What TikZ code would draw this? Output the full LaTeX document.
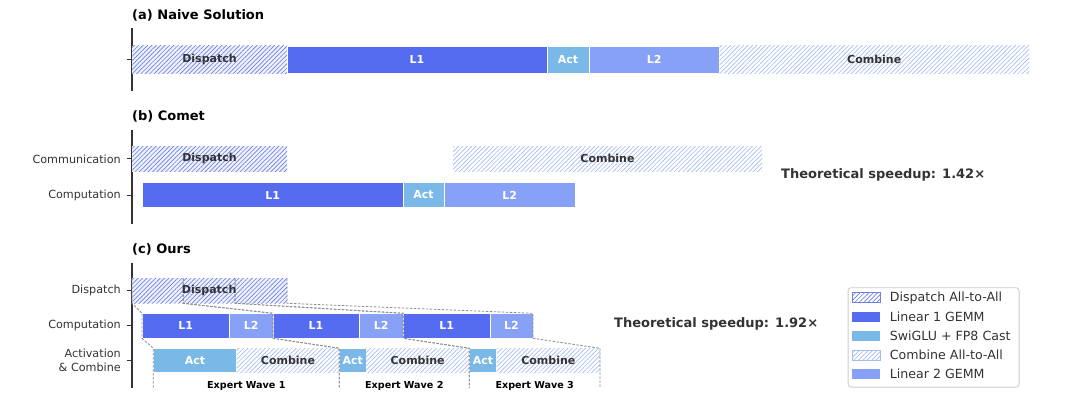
\documentclass[tikz,border=0pt]{standalone}
\usepackage{fontspec}
\setmainfont{DejaVu Sans}
\usetikzlibrary{patterns.meta}
\definecolor{lone}{HTML}{556BF0}
\definecolor{ltwo}{HTML}{86A1F6}
\definecolor{actc}{HTML}{7AB8E8}
\definecolor{dhatch}{HTML}{6E80E0}
\definecolor{dfill}{HTML}{EEF1FD}
\definecolor{chatch}{HTML}{A6BBF2}
\definecolor{txtd}{HTML}{333333}
\definecolor{dashg}{HTML}{8C8C8C}
\definecolor{legbd}{HTML}{CCCCCC}
\newcommand\bseg[7]{\node[#1,minimum width={((#5)-(#3))*1pt},minimum height={((#6)-(#4))*1pt}] (#2) at (#3,#4) {#7};}
\begin{document}
\begin{tikzpicture}[x=1pt,y=-1pt,
  seg/.style={inner sep=0pt,outer sep=0pt,anchor=north west,font=\fontsize{11}{13}\selectfont\bfseries},
  lonebox/.style={seg,fill=lone,draw=white,line width=0.5pt,text=white},
  ltwobox/.style={seg,fill=ltwo,draw=white,line width=0.5pt,text=white},
  actbox/.style={seg,fill=actc,draw=white,line width=0.5pt,text=white},
  dispbox/.style={seg,fill=dfill,text=txtd,postaction={pattern={Lines[angle=45,distance=3.1pt,line width=0.65pt]},pattern color=dhatch}},
  combbox/.style={seg,fill=white,text=txtd,postaction={pattern={Lines[angle=45,distance=3.1pt,line width=0.65pt]},pattern color=chatch}},
  axline/.style={draw=txtd,line width=1.2pt},
  tick/.style={draw=txtd,line width=1pt},
  axlab/.style={anchor=east,inner sep=0pt,text=txtd,font=\fontsize{11.2}{13.5}\selectfont},
  title/.style={anchor=west,inner sep=0pt,text=black,font=\fontsize{13}{15}\selectfont\bfseries},
  speed/.style={anchor=west,inner sep=0pt,text=txtd,font=\fontsize{13}{15}\selectfont\bfseries},
  wave/.style={inner sep=0pt,text=black,font=\fontsize{9.6}{11}\selectfont\bfseries},
  guide/.style={draw=dashg,line width=0.8pt,dash pattern=on 2.5pt off 1.5pt},
  legtxt/.style={anchor=west,inner sep=0pt,text=txtd,font=\fontsize{12.6}{15}\selectfont},
  legpatch/.style={anchor=west,inner sep=0pt,outer sep=0pt,minimum width=27.7pt,minimum height=10pt}
]
\useasboundingbox[fill=white] (0,0) rectangle (1080,412);

% ---------- (a) ----------
\node[title] (ta) at (132,15) {(a) Naive Solution};
\draw[axline] (132,28.3) -- (132,91);
\draw[tick] (127,59.8) -- (132,59.8);
\bseg{dispbox}{a1}{132}{46}{287}{73.6}{Dispatch}
\bseg{lonebox}{a2}{287}{46}{547}{73.6}{L1}
\bseg{actbox}{a3}{547}{46}{589}{73.6}{Act}
\bseg{ltwobox}{a4}{589}{46}{719.5}{73.6}{L2}
\bseg{combbox}{a5}{719.5}{46}{1029}{73.6}{Combine}

% ---------- (b) ----------
\node[title] (tb) at (132,116) {(b) Comet};
\draw[axline] (132,130) -- (132,224.3);
\draw[tick] (127,158.9) -- (132,158.9);
\draw[tick] (127,195) -- (132,195);
\node[axlab] (lcomm) at (121,158.9) {Communication};
\node[axlab] (lcomp) at (121,195) {Computation};
\bseg{dispbox}{b1}{132}{146}{287}{171.7}{Dispatch}
\bseg{combbox}{b2}{453}{146}{762}{171.7}{Combine}
\bseg{lonebox}{b3}{142.2}{182.3}{403}{207.7}{L1}
\bseg{actbox}{b4}{403}{182.3}{444.2}{207.7}{Act}
\bseg{ltwobox}{b5}{444.2}{182.3}{575}{207.7}{L2}
\node[speed] (sb) at (781,175) {Theoretical speedup: 1.42×};

% ---------- (c) ----------
\node[title] (tc) at (132,249.5) {(c) Ours};
\draw[axline] (132,262.7) -- (132,388.3);
\draw[tick] (127,290.8) -- (132,290.8);
\draw[tick] (127,325.8) -- (132,325.8);
\draw[tick] (127,360.5) -- (132,360.5);
\node[axlab] (ldisp) at (121,290.8) {Dispatch};
\node[axlab] (lcomp2) at (121,325.8) {Computation};
\node[axlab,align=right] (lact) at (121,360.5) {Activation\\\& Combine};

\bseg{dispbox}{d1}{132}{278.3}{183.3}{303.3}{}
\bseg{dispbox}{d2}{183.3}{278.3}{235}{303.3}{}
\bseg{dispbox}{d3}{235}{278.3}{287}{303.3}{}

\bseg{lonebox}{c1a}{142}{313.3}{229.3}{338.3}{L1}
\bseg{ltwobox}{c1b}{229.3}{313.3}{273}{338.3}{L2}
\bseg{lonebox}{c2a}{273}{313.3}{359}{338.3}{L1}
\bseg{ltwobox}{c2b}{359}{313.3}{403.3}{338.3}{L2}
\bseg{lonebox}{c3a}{403.3}{313.3}{490}{338.3}{L1}
\bseg{ltwobox}{c3b}{490}{313.3}{533}{338.3}{L2}

\bseg{actbox}{x1}{153.3}{348.3}{236.7}{372.7}{Act}
\bseg{combbox}{y1}{236.7}{348.3}{339.3}{372.7}{Combine}
\bseg{actbox}{x2}{339.3}{348.3}{366}{372.7}{Act}
\bseg{combbox}{y2}{366}{348.3}{469.3}{372.7}{Combine}
\bseg{actbox}{x3}{469.3}{348.3}{496.7}{372.7}{Act}
\bseg{combbox}{y3}{496.7}{348.3}{600}{372.7}{Combine}

\coordinate (e0) at (153.3,388);
\coordinate (e1) at (339.3,388);
\coordinate (e2) at (469.3,388);
\coordinate (e3) at (600,388);

% wave guides
\draw[guide] (d1.north west) -- (d1.south west) -- (c1a.north west) -- (c1a.south west) -- (x1.north west) -- (e0);
\draw[guide] (d1.north east) -- (d1.south east) -- (c1b.north east) -- (c1b.south east) -- (y1.north east) -- (e1);
\draw[guide] (d2.north west) -- (d2.south west) -- (c2a.north west) -- (c2a.south west) -- (x2.north west) -- (e1);
\draw[guide] (d2.north east) -- (d2.south east) -- (c2b.north east) -- (c2b.south east) -- (y2.north east) -- (e2);
\draw[guide] (d3.north west) -- (d3.south west) -- (c3a.north west) -- (c3a.south west) -- (x3.north west) -- (e2);
\draw[guide] (d3.north east) -- (d3.south east) -- (c3b.north east) -- (c3b.south east) -- (y3.north east) -- (e3);

\node[seg,anchor=center,text=txtd] (dlab) at (d2.center) {Dispatch};

\node[wave] (w1) at (246.3,386) {Expert Wave 1};
\node[wave] (w2) at (404.3,386) {Expert Wave 2};
\node[wave] (w3) at (534.7,386) {Expert Wave 3};

\node[speed] (sc) at (614,324) {Theoretical speedup: 1.92×};

% ---------- legend ----------
\node[draw=legbd,line width=0.8pt,rounded corners=3pt,fill=white,anchor=north west,inner sep=0pt,minimum width=171pt,minimum height=99.4pt] (leg) at (847.7,287.3) {};
\node[legpatch,draw=dhatch,line width=0.8pt,fill=white,postaction={pattern={Lines[angle=45,distance=3.1pt,line width=0.65pt]},pattern color=dhatch}] (p1) at (852.3,297.7) {};
\node[legpatch,fill=lone] (p2) at (852.3,316.8) {};
\node[legpatch,fill=actc] (p3) at (852.3,335.9) {};
\node[legpatch,draw=chatch,line width=0.8pt,fill=white,postaction={pattern={Lines[angle=45,distance=3.1pt,line width=0.65pt]},pattern color=chatch}] (p4) at (852.3,355) {};
\node[legpatch,fill=ltwo] (p5) at (852.3,374.1) {};
\node[legtxt] (g1) at (889.7,297.7) {Dispatch All-to-All};
\node[legtxt] (g2) at (889.7,316.8) {Linear 1 GEMM};
\node[legtxt] (g3) at (889.7,335.9) {SwiGLU + FP8 Cast};
\node[legtxt] (g4) at (889.7,355) {Combine All-to-All};
\node[legtxt] (g5) at (889.7,374.1) {Linear 2 GEMM};
\end{tikzpicture}
\end{document}
